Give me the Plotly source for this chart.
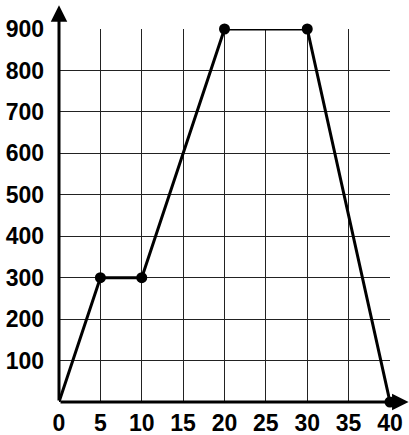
import plotly.graph_objects as go

# Distance travelled over time
minutes = [0, 5, 10, 20, 30, 40]
distance = [0, 300, 300, 900, 900, 0]

# Points marked with a dot (every corner after the origin)
dot_minutes = minutes[1:]
dot_distance = distance[1:]

x_ticks = [0, 5, 10, 15, 20, 25, 30, 35, 40]
y_ticks = [100, 200, 300, 400, 500, 600, 700, 800, 900]

font_family = "Liberation Sans, Arial, sans-serif"

fig = go.Figure()
fig.add_trace(go.Scatter(
    x=minutes, y=distance,
    mode="lines",
    line=dict(color="black", width=3),
    cliponaxis=False,
    showlegend=False,
))
fig.add_trace(go.Scatter(
    x=dot_minutes, y=dot_distance,
    mode="markers",
    marker=dict(color="#000000", size=11, opacity=1, line=dict(width=0)),
    cliponaxis=False,
    showlegend=False,
))

axis_common = dict(
    showgrid=True, gridcolor="#222222", gridwidth=1,
    zeroline=False, showline=False,
    ticks="", fixedrange=True, automargin=False,
    tickfont=dict(family=font_family, size=23, color="black", weight="bold"),
)

fig.update_layout(
    width=409, height=435,
    margin=dict(l=59, r=19, t=29, b=33, pad=0),
    paper_bgcolor="white", plot_bgcolor="white",
    xaxis=dict(range=[0, 40], tickvals=x_ticks, ticktext=[str(v) for v in x_ticks],
               ticklabelstandoff=5, **axis_common),
    yaxis=dict(range=[0, 900], tickvals=y_ticks, ticktext=[str(v) for v in y_ticks],
               ticklabelstandoff=14, **axis_common),
)

# Axis lines with arrowheads
fig.add_annotation(xref="x domain", yref="y domain", axref="x domain", ayref="y domain",
                   x=1.056, y=0, ax=0, ay=0, text="", showarrow=True,
                   arrowhead=2, arrowsize=1.1, arrowwidth=3, arrowcolor="black")
fig.add_annotation(xref="x domain", yref="y domain", axref="x domain", ayref="y domain",
                   x=0, y=1.064, ax=0, ay=0, text="", showarrow=True,
                   arrowhead=2, arrowsize=1.1, arrowwidth=3, arrowcolor="black")

fig.write_html("out.html")
